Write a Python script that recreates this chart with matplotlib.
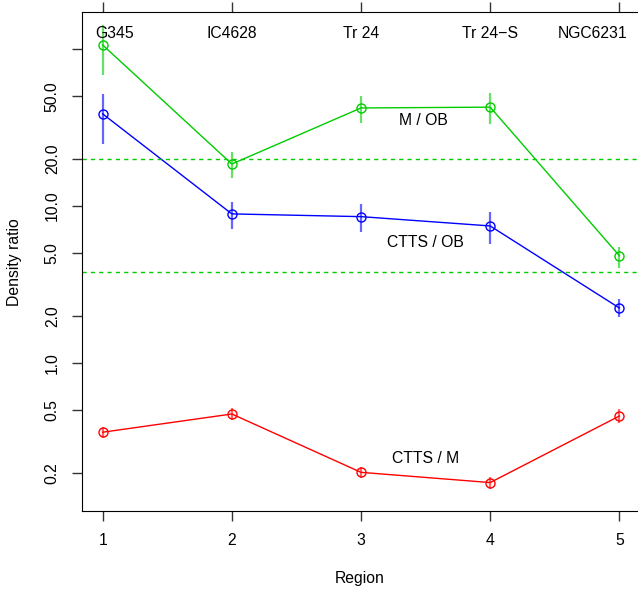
import matplotlib
matplotlib.use("Agg")
import matplotlib.pyplot as plt
import numpy as np

plt.rcParams['font.family'] = ['Liberation Sans', 'DejaVu Sans']

region = [1, 2, 3, 4, 5]
region_names = ['G345', 'IC4628', 'Tr 24', 'Tr 24\u2212S', 'NGC6231']
name_x = [1.09, 2, 3, 4, 4.79]

# M / OB
m_ob = [106, 18.5, 42.1, 42.6, 4.82]
m_ob_hi = [142, 22.1, 50.2, 52.5, 5.48]
m_ob_lo = [68, 15.1, 34.0, 33.3, 4.03]

# CTTS / OB
ctts_ob = [38.6, 8.9, 8.55, 7.46, 2.24]
ctts_ob_hi = [51.6, 10.6, 10.3, 9.16, 2.56]
ctts_ob_lo = [24.8, 7.14, 6.8, 5.73, 1.96]

# CTTS / M
ctts_m = [0.362, 0.473, 0.201, 0.173, 0.459]
ctts_m_hi = [0.391, 0.517, 0.218, 0.188, 0.509]
ctts_m_lo = [0.333, 0.434, 0.185, 0.158, 0.415]

ref_lines = [20, 3.78]

yticks = [0.2, 0.5, 1, 2, 5, 10, 20, 50, 100]
ytick_labels = ['0.2', '0.5', '1.0', '2.0', '5.0', '10.0', '20.0', '50.0', '']

fs = 11.3

fig = plt.figure(figsize=(6.38, 5.94), dpi=100)
ax = fig.add_axes([82 / 638, 1 - 511 / 594, 558 / 638, 499 / 594])

green = '#00CD00'
series = [
    (m_ob, m_ob_lo, m_ob_hi, green),
    (ctts_ob, ctts_ob_lo, ctts_ob_hi, '#0000FF'),
    (ctts_m, ctts_m_lo, ctts_m_hi, '#FF0000'),
]
for y, lo, hi, c in series:
    ax.vlines(region, lo, hi, colors=c, alpha=0.6, lw=1.6)
    ax.plot(region, y, color=c, lw=1, marker='o', ms=6.5, mfc='none', mew=1)

for r in ref_lines:
    ax.axhline(r, color=green, lw=1, ls=(0, (3, 3)))

ax.set_yscale('log')
ax.set_xlim(0.84, 5.16)
ax.set_ylim(0.114, 172)
ax.set_yticks(yticks)
ax.set_yticklabels(ytick_labels, rotation=90, va='center')
ax.yaxis.set_minor_locator(matplotlib.ticker.NullLocator())
ax.set_xticks(region)
ax.set_xticklabels([str(r) for r in region])
ax.tick_params(axis='both', direction='out', length=7, width=1, labelsize=fs,
               colors='#333333', labelcolor='black', pad=9)
ax.tick_params(axis='x', top=True)
ax.spines['right'].set_visible(False)

for xn, name in zip(name_x, region_names):
    ax.text(xn, 126, name, ha='center', va='center', fontsize=fs)

ax.text(3.48, 35.0, 'M / OB', ha='center', va='center', fontsize=fs)
ax.text(3.5, 5.85, 'CTTS / OB', ha='center', va='center', fontsize=fs)
ax.text(3.5, 0.245, 'CTTS / M', ha='center', va='center', fontsize=fs)

fig.text(360 / 638, 1 - 578 / 594, 'Region', ha='center', va='center', fontsize=fs)
fig.text(15 / 638, 1 - 262 / 594, 'Density ratio', ha='center', va='center',
         rotation=90, fontsize=fs)

fig.savefig('out.png', dpi=100)
